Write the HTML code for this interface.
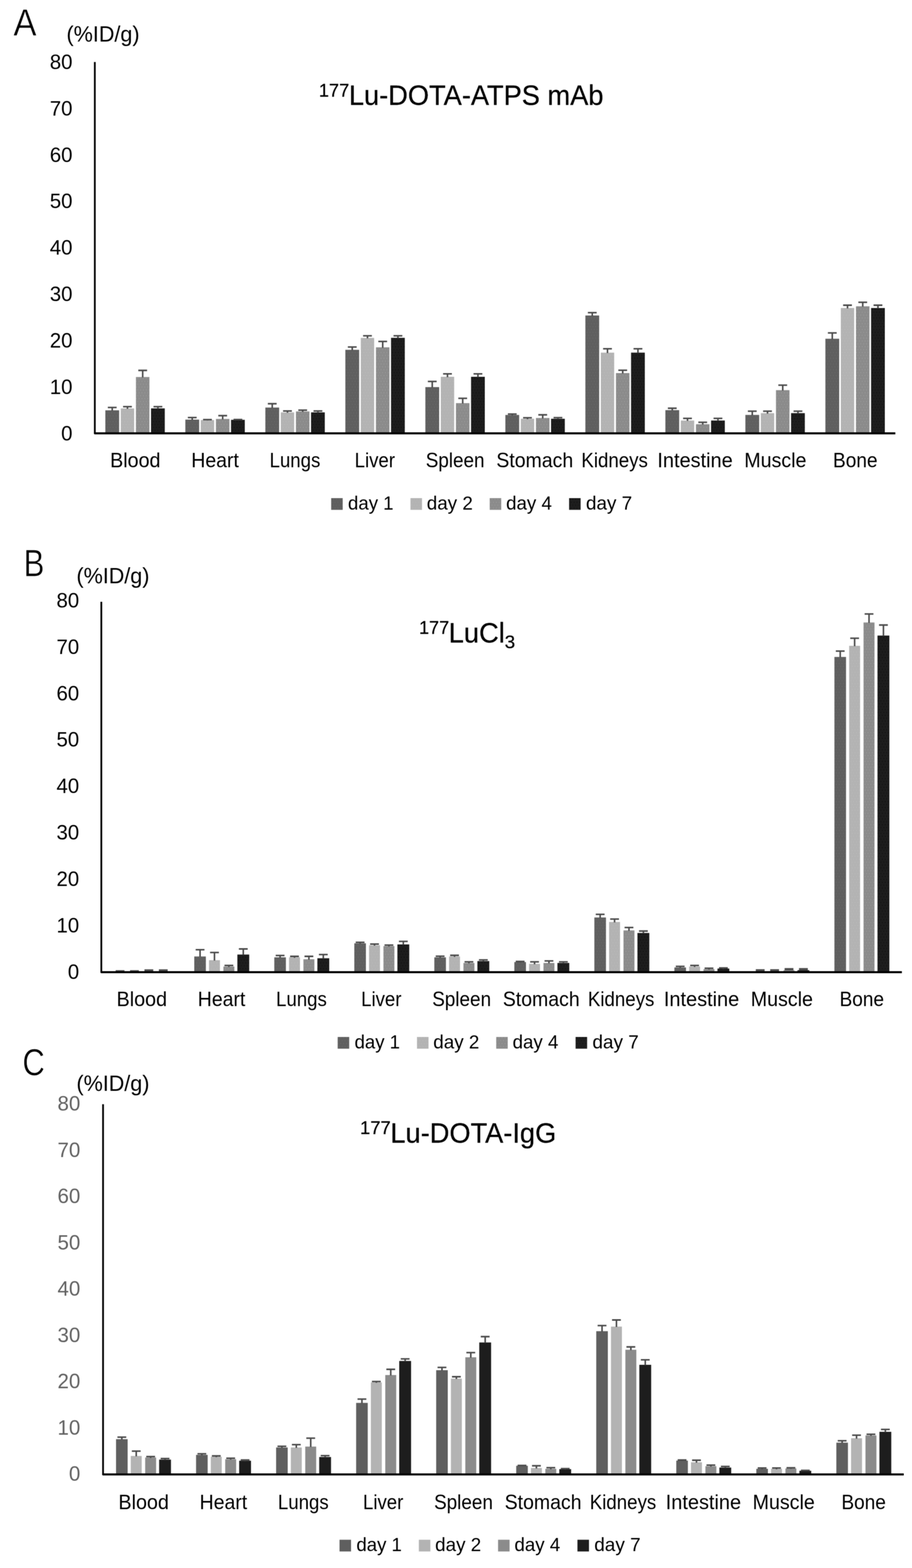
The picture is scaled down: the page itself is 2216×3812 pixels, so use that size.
<!DOCTYPE html>
<html lang="en">
<head>
<meta charset="utf-8">
<title>Biodistribution of 177Lu-labelled agents (%ID/g)</title>
<style>
html,body{margin:0;padding:0;background:#fff;}
body{width:2216px;height:3812px;overflow:hidden;}
svg{display:block;font-family:'Liberation Sans', sans-serif;}
svg text{white-space:pre;}
</style>
</head>
<body>
<svg width="2216" height="3812" viewBox="0 0 2216 3812">
<defs>
<filter id="soft" x="0" y="0" width="2216" height="3812" filterUnits="userSpaceOnUse" color-interpolation-filters="sRGB"><feConvolveMatrix order="3" kernelMatrix="1 2 1 2 4 2 1 2 1" divisor="16" edgeMode="duplicate" preserveAlpha="true"/></filter>
<pattern id="t0" width="7" height="14" patternUnits="userSpaceOnUse"><rect width="7" height="14" fill="#5f5f5f"/><rect x="1" y="2" width="2" height="2" fill="#6a6a6a"/><rect x="4.5" y="9" width="2" height="2" fill="#6a6a6a"/></pattern>
<pattern id="t1" width="7" height="14" patternUnits="userSpaceOnUse"><rect width="7" height="14" fill="#b3b3b3"/><rect x="1" y="2" width="2" height="2" fill="#bababa"/><rect x="4.5" y="9" width="2" height="2" fill="#bababa"/></pattern>
<pattern id="t2" width="7" height="14" patternUnits="userSpaceOnUse"><rect width="7" height="14" fill="#8b8b8b"/><rect x="1" y="2" width="2" height="2" fill="#9b9b9b"/><rect x="4.5" y="9" width="2" height="2" fill="#9b9b9b"/></pattern>
<pattern id="t3" width="7" height="14" patternUnits="userSpaceOnUse"><rect width="7" height="14" fill="#1d1d1d"/><rect x="1" y="2" width="2" height="2" fill="#0e0e0e"/><rect x="4.5" y="9" width="2" height="2" fill="#0e0e0e"/></pattern>
</defs>
<g filter="url(#soft)">
<rect width="2216" height="3812" fill="#fff"/>
<g id="chart-a">
<g class="panel" stroke="#fff" stroke-width="1.1" paint-order="fill stroke"><text x="32.6" y="86.9" font-size="93" textLength="56.4" lengthAdjust="spacingAndGlyphs">A</text></g>
<g class="unit"><text x="161.6" y="101.3" font-size="54.5" textLength="177.5" lengthAdjust="spacingAndGlyphs">(%ID/g)</text></g>
<g class="title" stroke="#000" stroke-width="0.5"><text><tspan x="774.7" y="234.8" font-size="45" textLength="73.8" lengthAdjust="spacingAndGlyphs">177</tspan><tspan x="847.8" y="255.1" font-size="68" textLength="618.5" lengthAdjust="spacingAndGlyphs">Lu-DOTA-ATPS mAb</tspan></text></g>
<g class="yticks"><text x="176.1" y="1071" font-size="49.6" text-anchor="end">0</text><text x="176.1" y="958.09" font-size="49.6" text-anchor="end">10</text><text x="176.1" y="845.17" font-size="49.6" text-anchor="end">20</text><text x="176.1" y="732.26" font-size="49.6" text-anchor="end">30</text><text x="176.1" y="619.35" font-size="49.6" text-anchor="end">40</text><text x="176.1" y="506.44" font-size="49.6" text-anchor="end">50</text><text x="176.1" y="393.53" font-size="49.6" text-anchor="end">60</text><text x="176.1" y="280.61" font-size="49.6" text-anchor="end">70</text><text x="176.1" y="167.7" font-size="49.6" text-anchor="end">80</text></g>
<g class="bars"><rect x="255.95" y="997.5" width="33.5" height="55.8" fill="url(#t0)"/><rect x="293.45" y="993" width="32.5" height="60.3" fill="url(#t1)"/><rect x="330.3" y="916.6" width="32.8" height="136.7" fill="url(#t2)"/><rect x="367" y="992.8" width="33.4" height="60.5" fill="url(#t3)"/><rect x="450.35" y="1020.1" width="33.5" height="33.2" fill="url(#t0)"/><rect x="487.85" y="1021.2" width="32.5" height="32.1" fill="url(#t1)"/><rect x="524.7" y="1018.5" width="32.8" height="34.8" fill="url(#t2)"/><rect x="561.4" y="1020.6" width="33.4" height="32.7" fill="url(#t3)"/><rect x="644.75" y="990.8" width="33.5" height="62.5" fill="url(#t0)"/><rect x="682.25" y="1002.5" width="32.5" height="50.8" fill="url(#t1)"/><rect x="719.1" y="1000.3" width="32.8" height="53" fill="url(#t2)"/><rect x="755.8" y="1002.5" width="33.4" height="50.8" fill="url(#t3)"/><rect x="839.15" y="850.4" width="33.5" height="202.9" fill="url(#t0)"/><rect x="876.65" y="821.5" width="32.5" height="231.8" fill="url(#t1)"/><rect x="913.5" y="844.4" width="32.8" height="208.9" fill="url(#t2)"/><rect x="950.2" y="821.3" width="33.4" height="232" fill="url(#t3)"/><rect x="1033.55" y="941.1" width="33.5" height="112.2" fill="url(#t0)"/><rect x="1071.05" y="916" width="32.5" height="137.3" fill="url(#t1)"/><rect x="1107.9" y="980.1" width="32.8" height="73.2" fill="url(#t2)"/><rect x="1144.6" y="916" width="33.4" height="137.3" fill="url(#t3)"/><rect x="1227.95" y="1008.8" width="33.5" height="44.5" fill="url(#t0)"/><rect x="1265.45" y="1018.1" width="32.5" height="35.2" fill="url(#t1)"/><rect x="1302.3" y="1016.2" width="32.8" height="37.1" fill="url(#t2)"/><rect x="1339" y="1018.1" width="33.4" height="35.2" fill="url(#t3)"/><rect x="1422.35" y="767" width="33.5" height="286.3" fill="url(#t0)"/><rect x="1459.85" y="857.3" width="32.5" height="196" fill="url(#t1)"/><rect x="1496.7" y="907" width="32.8" height="146.3" fill="url(#t2)"/><rect x="1533.4" y="857.3" width="33.4" height="196" fill="url(#t3)"/><rect x="1616.75" y="997.1" width="33.5" height="56.2" fill="url(#t0)"/><rect x="1654.25" y="1022.3" width="32.5" height="31" fill="url(#t1)"/><rect x="1691.1" y="1031.3" width="32.8" height="22" fill="url(#t2)"/><rect x="1727.8" y="1022.3" width="33.4" height="31" fill="url(#t3)"/><rect x="1811.15" y="1008.7" width="33.5" height="44.6" fill="url(#t0)"/><rect x="1848.65" y="1004.4" width="32.5" height="48.9" fill="url(#t1)"/><rect x="1885.5" y="948.5" width="32.8" height="104.8" fill="url(#t2)"/><rect x="1922.2" y="1004.4" width="33.4" height="48.9" fill="url(#t3)"/><rect x="2005.55" y="823.5" width="33.5" height="229.8" fill="url(#t0)"/><rect x="2043.05" y="748.8" width="32.5" height="304.5" fill="url(#t1)"/><rect x="2079.9" y="744.6" width="32.8" height="308.7" fill="url(#t2)"/><rect x="2116.6" y="748.8" width="33.4" height="304.5" fill="url(#t3)"/></g>
<g class="err" fill="none" stroke="#4b4b4b" stroke-width="3.8"><path d="M272.7 998.5V990.6M262 990.6H283.4"/><path d="M309.7 994V988.7M299 988.7H320.4"/><path d="M346.7 917.6V900.5M336 900.5H357.4"/><path d="M383.7 993.8V988.7M373 988.7H394.4"/><path d="M467.1 1021.1V1015.2M456.4 1015.2H477.8"/><path d="M504.1 1022.2V1020.1M493.4 1020.1H514.8"/><path d="M541.1 1019.5V1010.5M530.4 1010.5H551.8"/><path d="M578.1 1021.6V1019.8M567.4 1019.8H588.8"/><path d="M661.5 991.8V981.5M650.8 981.5H672.2"/><path d="M698.5 1003.5V999.2M687.8 999.2H709.2"/><path d="M735.5 1001.3V997.1M724.8 997.1H746.2"/><path d="M772.5 1003.5V999.2M761.8 999.2H783.2"/><path d="M855.9 851.4V843.6M845.2 843.6H866.6"/><path d="M892.9 822.5V816.4M882.2 816.4H903.6"/><path d="M929.9 845.4V830.1M919.2 830.1H940.6"/><path d="M966.9 822.3V816.4M956.2 816.4H977.6"/><path d="M1050.3 942.1V927.4M1039.6 927.4H1061"/><path d="M1087.3 917V908.9M1076.6 908.9H1098"/><path d="M1124.3 981.1V968.4M1113.6 968.4H1135"/><path d="M1161.3 917V908.9M1150.6 908.9H1172"/><path d="M1244.7 1009.8V1006.6M1234 1006.6H1255.4"/><path d="M1281.7 1019.1V1015.6M1271 1015.6H1292.4"/><path d="M1318.7 1017.2V1008.5M1308 1008.5H1329.4"/><path d="M1355.7 1019.1V1015.4M1345 1015.4H1366.4"/><path d="M1439.1 768V760.1M1428.4 760.1H1449.8"/><path d="M1476.1 858.3V847.8M1465.4 847.8H1486.8"/><path d="M1513.1 908V900.2M1502.4 900.2H1523.8"/><path d="M1550.1 858.3V847.8M1539.4 847.8H1560.8"/><path d="M1633.5 998.1V992.5M1622.8 992.5H1644.2"/><path d="M1670.5 1023.3V1017.1M1659.8 1017.1H1681.2"/><path d="M1707.5 1032.3V1026.6M1696.8 1026.6H1718.2"/><path d="M1744.5 1023.3V1017.1M1733.8 1017.1H1755.2"/><path d="M1827.9 1009.7V999.6M1817.2 999.6H1838.6"/><path d="M1864.9 1005.4V999.6M1854.2 999.6H1875.6"/><path d="M1901.9 949.5V936.3M1891.2 936.3H1912.6"/><path d="M1938.9 1005.4V999.6M1928.2 999.6H1949.6"/><path d="M2022.3 824.5V809.3M2011.6 809.3H2033"/><path d="M2059.3 749.8V742M2048.6 742H2070"/><path d="M2096.3 745.6V734.9M2085.6 734.9H2107"/><path d="M2133.3 749.8V742M2122.6 742H2144"/></g>
<g class="axis" fill="none" stroke="#000"><path d="M230.4 150.7V1053.6" stroke-width="4.3"/><path d="M230.7 1053.6H250.4" stroke-width="5" stroke-linecap="round"/><path d="M240.4 1053.6H2175.5" stroke-width="5"/></g>
<g class="cats"><text x="267.5" y="1136.3" font-size="49.5" textLength="122.5" lengthAdjust="spacingAndGlyphs">Blood</text><text x="464.8" y="1136.3" font-size="49.5" textLength="115.6" lengthAdjust="spacingAndGlyphs">Heart</text><text x="655" y="1136.3" font-size="49.5" textLength="123.3" lengthAdjust="spacingAndGlyphs">Lungs</text><text x="861.8" y="1136.3" font-size="49.5" textLength="97.9" lengthAdjust="spacingAndGlyphs">Liver</text><text x="1034.4" y="1136.3" font-size="49.5" textLength="143" lengthAdjust="spacingAndGlyphs">Spleen</text><text x="1206" y="1136.3" font-size="49.5" textLength="186.7" lengthAdjust="spacingAndGlyphs">Stomach</text><text x="1412.6" y="1136.3" font-size="49.5" textLength="161.7" lengthAdjust="spacingAndGlyphs">Kidneys</text><text x="1597.3" y="1136.3" font-size="49.5" textLength="183.1" lengthAdjust="spacingAndGlyphs">Intestine</text><text x="1808.5" y="1136.3" font-size="49.5" textLength="151" lengthAdjust="spacingAndGlyphs">Muscle</text><text x="2024.1" y="1136.3" font-size="49.5" textLength="108.2" lengthAdjust="spacingAndGlyphs">Bone</text></g>
<g class="legend"><rect x="804.7" y="1211" width="28" height="28.5" fill="url(#t0)"/><text x="845.6" y="1238.8" font-size="46.3" textLength="110.6" lengthAdjust="spacingAndGlyphs">day 1</text><rect x="997.4" y="1211" width="28" height="28.5" fill="url(#t1)"/><text x="1037" y="1238.8" font-size="46.3" textLength="111.8" lengthAdjust="spacingAndGlyphs">day 2</text><rect x="1189.9" y="1211" width="28" height="28.5" fill="url(#t2)"/><text x="1229.7" y="1238.8" font-size="46.3" textLength="111.3" lengthAdjust="spacingAndGlyphs">day 4</text><rect x="1382.8" y="1211" width="28" height="28.5" fill="url(#t3)"/><text x="1423.7" y="1238.8" font-size="46.3" textLength="112.5" lengthAdjust="spacingAndGlyphs">day 7</text></g>
</g>
<g id="chart-b">
<g class="panel" stroke="#fff" stroke-width="1.1" paint-order="fill stroke"><text x="57.4" y="1401" font-size="93.5" textLength="50.3" lengthAdjust="spacingAndGlyphs">B</text></g>
<g class="unit"><text x="185.7" y="1417.8" font-size="54.5" textLength="177.5" lengthAdjust="spacingAndGlyphs">(%ID/g)</text></g>
<g class="title" stroke="#000" stroke-width="0.5"><text><tspan x="1018.2" y="1541.4" font-size="45" textLength="73.2" lengthAdjust="spacingAndGlyphs">177</tspan><tspan x="1090.2" y="1562.4" font-size="68" textLength="136.3" lengthAdjust="spacingAndGlyphs">LuCl</tspan><tspan x="1226.3" y="1575.5" font-size="44" textLength="25.5" lengthAdjust="spacingAndGlyphs">3</tspan></text></g>
<g class="yticks"><text x="192.4" y="2380" font-size="49.6" text-anchor="end">0</text><text x="192.4" y="2267.09" font-size="49.6" text-anchor="end">10</text><text x="192.4" y="2154.18" font-size="49.6" text-anchor="end">20</text><text x="192.4" y="2041.26" font-size="49.6" text-anchor="end">30</text><text x="192.4" y="1928.35" font-size="49.6" text-anchor="end">40</text><text x="192.4" y="1815.44" font-size="49.6" text-anchor="end">50</text><text x="192.4" y="1702.53" font-size="49.6" text-anchor="end">60</text><text x="192.4" y="1589.61" font-size="49.6" text-anchor="end">70</text><text x="192.4" y="1476.7" font-size="49.6" text-anchor="end">80</text></g>
<g class="bars"><rect x="472.04" y="2325.3" width="28.2" height="37.5" fill="url(#t0)"/><rect x="507.84" y="2334.3" width="26.6" height="28.5" fill="url(#t1)"/><rect x="542.85" y="2349.8" width="26.6" height="13" fill="url(#t2)"/><rect x="576.75" y="2320.6" width="28.8" height="42.2" fill="url(#t3)"/><rect x="666.48" y="2327.4" width="28.2" height="35.4" fill="url(#t0)"/><rect x="702.28" y="2327.4" width="26.6" height="35.4" fill="url(#t1)"/><rect x="737.28" y="2332.1" width="26.6" height="30.7" fill="url(#t2)"/><rect x="771.18" y="2329.6" width="28.8" height="33.2" fill="url(#t3)"/><rect x="860.9" y="2293.3" width="28.2" height="69.5" fill="url(#t0)"/><rect x="896.71" y="2298" width="26.6" height="64.8" fill="url(#t1)"/><rect x="931.71" y="2300.1" width="26.6" height="62.7" fill="url(#t2)"/><rect x="965.61" y="2296" width="28.8" height="66.8" fill="url(#t3)"/><rect x="1055.34" y="2327.4" width="28.2" height="35.4" fill="url(#t0)"/><rect x="1091.13" y="2325.3" width="26.6" height="37.5" fill="url(#t1)"/><rect x="1126.13" y="2341.1" width="26.6" height="21.7" fill="url(#t2)"/><rect x="1160.03" y="2336.5" width="28.8" height="26.3" fill="url(#t3)"/><rect x="1249.77" y="2338.9" width="28.2" height="23.9" fill="url(#t0)"/><rect x="1285.57" y="2343.3" width="26.6" height="19.5" fill="url(#t1)"/><rect x="1320.57" y="2341.1" width="26.6" height="21.7" fill="url(#t2)"/><rect x="1354.46" y="2341.1" width="28.8" height="21.7" fill="url(#t3)"/><rect x="1444.2" y="2230.5" width="28.2" height="132.3" fill="url(#t0)"/><rect x="1480" y="2241.4" width="26.6" height="121.4" fill="url(#t1)"/><rect x="1515" y="2261.9" width="26.6" height="100.9" fill="url(#t2)"/><rect x="1548.89" y="2268.2" width="28.8" height="94.6" fill="url(#t3)"/><rect x="1638.63" y="2352" width="28.2" height="10.8" fill="url(#t0)"/><rect x="1674.43" y="2349.8" width="26.6" height="13" fill="url(#t1)"/><rect x="1709.43" y="2356.1" width="26.6" height="6.7" fill="url(#t2)"/><rect x="1743.33" y="2354.7" width="28.8" height="8.1" fill="url(#t3)"/><rect x="1903.86" y="2358.7" width="26.6" height="4.1" fill="url(#t2)"/><rect x="1937.75" y="2358.7" width="28.8" height="4.1" fill="url(#t3)"/><rect x="2027.49" y="1597.1" width="28.2" height="765.7" fill="url(#t0)"/><rect x="2063.28" y="1570" width="26.6" height="792.8" fill="url(#t1)"/><rect x="2098.28" y="1513.3" width="26.6" height="849.5" fill="url(#t2)"/><rect x="2132.18" y="1545.1" width="28.8" height="817.7" fill="url(#t3)"/></g>
<g class="err" fill="none" stroke="#4b4b4b" stroke-width="3.8"><path d="M486.14 2326.3V2308.9M475.44 2308.9H496.84"/><path d="M521.14 2335.3V2315.7M510.44 2315.7H531.85"/><path d="M556.14 2350.8V2347.1M545.44 2347.1H566.85"/><path d="M591.14 2321.6V2307M580.44 2307H601.85"/><path d="M680.58 2328.4V2322.8M669.88 2322.8H691.28"/><path d="M715.58 2328.4V2325M704.88 2325H726.28"/><path d="M750.58 2333.1V2325M739.88 2325H761.28"/><path d="M785.58 2330.6V2320.6M774.88 2320.6H796.28"/><path d="M875 2294.3V2290.9M864.3 2290.9H885.71"/><path d="M910 2299V2295.2M899.3 2295.2H920.71"/><path d="M945 2301.1V2297.7M934.3 2297.7H955.71"/><path d="M980 2297V2288.7M969.3 2288.7H990.71"/><path d="M1069.43 2328.4V2324.7M1058.73 2324.7H1080.13"/><path d="M1104.43 2326.3V2322.5M1093.73 2322.5H1115.13"/><path d="M1139.43 2342.1V2338.4M1128.73 2338.4H1150.13"/><path d="M1174.43 2337.5V2333.7M1163.73 2333.7H1185.13"/><path d="M1263.87 2339.9V2337.5M1253.16 2337.5H1274.57"/><path d="M1298.87 2344.3V2338.4M1288.16 2338.4H1309.57"/><path d="M1333.87 2342.1V2336.2M1323.16 2336.2H1344.57"/><path d="M1368.87 2342.1V2338.4M1358.16 2338.4H1379.57"/><path d="M1458.3 2231.5V2222.9M1447.6 2222.9H1469"/><path d="M1493.3 2242.4V2234.3M1482.6 2234.3H1504"/><path d="M1528.3 2262.9V2254.8M1517.6 2254.8H1539"/><path d="M1563.3 2269.2V2263.5M1552.6 2263.5H1574"/><path d="M1652.73 2353V2349.3M1642.03 2349.3H1663.43"/><path d="M1687.73 2350.8V2347.1M1677.03 2347.1H1698.43"/><path d="M1722.73 2357.1V2353.9M1712.03 2353.9H1733.43"/><path d="M1757.73 2355.7V2353.1M1747.03 2353.1H1768.43"/><path d="M2041.59 1598.1V1582.9M2030.88 1582.9H2052.28"/><path d="M2076.59 1571V1551.6M2065.89 1551.6H2087.28"/><path d="M2111.59 1514.3V1492.6M2100.89 1492.6H2122.28"/><path d="M2146.59 1546.1V1519.5M2135.89 1519.5H2157.28"/></g>
<g class="err-flat" fill="#4b4b4b"><rect x="281.02" y="2358.6" width="21.4" height="3.9"/><rect x="316.02" y="2358.6" width="21.4" height="3.9"/><rect x="351.02" y="2356.5" width="21.4" height="6"/><rect x="386.02" y="2356.5" width="21.4" height="6"/><rect x="1836.45" y="2356.2" width="21.4" height="6.3"/><rect x="1871.45" y="2356.2" width="21.4" height="6.3"/><rect x="1906.45" y="2353.5" width="21.4" height="5.4"/><rect x="1941.45" y="2353.5" width="21.4" height="5.4"/></g>
<g class="axis" fill="none" stroke="#000"><path d="M246.2 1463V2363.6" stroke-width="4.3"/><path d="M246.5 2363.6H266.2" stroke-width="5" stroke-linecap="round"/><path d="M256.2 2363.6H2191.4" stroke-width="5"/></g>
<g class="cats"><text x="283.3" y="2446.3" font-size="49.5" textLength="122.5" lengthAdjust="spacingAndGlyphs">Blood</text><text x="480.6" y="2446.3" font-size="49.5" textLength="115.6" lengthAdjust="spacingAndGlyphs">Heart</text><text x="670.8" y="2446.3" font-size="49.5" textLength="123.3" lengthAdjust="spacingAndGlyphs">Lungs</text><text x="877.6" y="2446.3" font-size="49.5" textLength="97.9" lengthAdjust="spacingAndGlyphs">Liver</text><text x="1050.2" y="2446.3" font-size="49.5" textLength="143" lengthAdjust="spacingAndGlyphs">Spleen</text><text x="1221.8" y="2446.3" font-size="49.5" textLength="186.7" lengthAdjust="spacingAndGlyphs">Stomach</text><text x="1428.4" y="2446.3" font-size="49.5" textLength="161.7" lengthAdjust="spacingAndGlyphs">Kidneys</text><text x="1613.1" y="2446.3" font-size="49.5" textLength="183.1" lengthAdjust="spacingAndGlyphs">Intestine</text><text x="1824.3" y="2446.3" font-size="49.5" textLength="151" lengthAdjust="spacingAndGlyphs">Muscle</text><text x="2039.9" y="2446.3" font-size="49.5" textLength="108.2" lengthAdjust="spacingAndGlyphs">Bone</text></g>
<g class="legend"><rect x="820.5" y="2521" width="28" height="28.5" fill="url(#t0)"/><text x="861.4" y="2548.8" font-size="46.3" textLength="110.6" lengthAdjust="spacingAndGlyphs">day 1</text><rect x="1013.2" y="2521" width="28" height="28.5" fill="url(#t1)"/><text x="1052.8" y="2548.8" font-size="46.3" textLength="111.8" lengthAdjust="spacingAndGlyphs">day 2</text><rect x="1205.7" y="2521" width="28" height="28.5" fill="url(#t2)"/><text x="1245.5" y="2548.8" font-size="46.3" textLength="111.3" lengthAdjust="spacingAndGlyphs">day 4</text><rect x="1398.6" y="2521" width="28" height="28.5" fill="url(#t3)"/><text x="1439.5" y="2548.8" font-size="46.3" textLength="112.5" lengthAdjust="spacingAndGlyphs">day 7</text></g>
</g>
<g id="chart-c">
<g class="panel" stroke="#fff" stroke-width="1.1" paint-order="fill stroke"><text x="54.6" y="2613.9" font-size="90" textLength="54.4" lengthAdjust="spacingAndGlyphs">C</text></g>
<g class="unit"><text x="185.7" y="2652.1" font-size="54.5" textLength="177.5" lengthAdjust="spacingAndGlyphs">(%ID/g)</text></g>
<g class="title" stroke="#000" stroke-width="0.5"><text><tspan x="874.8" y="2756.6" font-size="45" textLength="74.6" lengthAdjust="spacingAndGlyphs">177</tspan><tspan x="948.6" y="2777.5" font-size="68" textLength="403" lengthAdjust="spacingAndGlyphs">Lu-DOTA-IgG</tspan></text></g>
<g class="yticks"><text x="195" y="3600.2" font-size="49.6" text-anchor="end" fill="#626262">0</text><text x="195" y="3487.72" font-size="49.6" text-anchor="end" fill="#626262">10</text><text x="195" y="3375.25" font-size="49.6" text-anchor="end" fill="#626262">20</text><text x="195" y="3262.78" font-size="49.6" text-anchor="end" fill="#626262">30</text><text x="195" y="3150.3" font-size="49.6" text-anchor="end" fill="#626262">40</text><text x="195" y="3037.82" font-size="49.6" text-anchor="end" fill="#626262">50</text><text x="195" y="2925.35" font-size="49.6" text-anchor="end" fill="#626262">60</text><text x="195" y="2812.88" font-size="49.6" text-anchor="end" fill="#626262">70</text><text x="195" y="2700.4" font-size="49.6" text-anchor="end" fill="#626262">80</text></g>
<g class="bars"><rect x="281.94" y="3498.8" width="28.2" height="85.5" fill="#5f5f5f"/><rect x="317.74" y="3539.6" width="26.6" height="44.7" fill="#b3b3b3"/><rect x="352.74" y="3543.4" width="26.6" height="40.9" fill="#8b8b8b"/><rect x="386.64" y="3548.5" width="28.8" height="35.8" fill="#1d1d1d"/><rect x="476.4" y="3537" width="28.2" height="47.3" fill="#5f5f5f"/><rect x="512.21" y="3541.6" width="26.6" height="42.7" fill="#b3b3b3"/><rect x="547.21" y="3547.6" width="26.6" height="36.7" fill="#8b8b8b"/><rect x="581.11" y="3551.2" width="28.8" height="33.1" fill="#1d1d1d"/><rect x="670.88" y="3519" width="28.2" height="65.3" fill="#5f5f5f"/><rect x="706.68" y="3519" width="26.6" height="65.3" fill="#b3b3b3"/><rect x="741.68" y="3516.8" width="26.6" height="67.5" fill="#8b8b8b"/><rect x="775.58" y="3542.2" width="28.8" height="42.1" fill="#1d1d1d"/><rect x="865.34" y="3410.6" width="28.2" height="173.7" fill="#5f5f5f"/><rect x="901.14" y="3360.8" width="26.6" height="223.5" fill="#b3b3b3"/><rect x="936.14" y="3342.9" width="26.6" height="241.4" fill="#8b8b8b"/><rect x="970.04" y="3308.7" width="28.8" height="275.6" fill="#1d1d1d"/><rect x="1059.82" y="3331.1" width="28.2" height="253.2" fill="#5f5f5f"/><rect x="1095.62" y="3351.6" width="26.6" height="232.7" fill="#b3b3b3"/><rect x="1130.62" y="3299.7" width="26.6" height="284.6" fill="#8b8b8b"/><rect x="1164.51" y="3263.7" width="28.8" height="320.6" fill="#1d1d1d"/><rect x="1254.29" y="3563.5" width="28.2" height="20.8" fill="#5f5f5f"/><rect x="1290.09" y="3568.9" width="26.6" height="15.4" fill="#b3b3b3"/><rect x="1325.09" y="3570.9" width="26.6" height="13.4" fill="#8b8b8b"/><rect x="1358.98" y="3571.7" width="28.8" height="12.6" fill="#1d1d1d"/><rect x="1448.76" y="3236.3" width="28.2" height="348" fill="#5f5f5f"/><rect x="1484.56" y="3225.1" width="26.6" height="359.2" fill="#b3b3b3"/><rect x="1519.56" y="3281.4" width="26.6" height="302.9" fill="#8b8b8b"/><rect x="1553.45" y="3318" width="28.8" height="266.3" fill="#1d1d1d"/><rect x="1643.23" y="3550.9" width="28.2" height="33.4" fill="#5f5f5f"/><rect x="1679.03" y="3554.9" width="26.6" height="29.4" fill="#b3b3b3"/><rect x="1714.03" y="3564.5" width="26.6" height="19.8" fill="#8b8b8b"/><rect x="1747.92" y="3567.8" width="28.8" height="16.5" fill="#1d1d1d"/><rect x="1837.69" y="3570.9" width="28.2" height="13.4" fill="#5f5f5f"/><rect x="1873.49" y="3570.9" width="26.6" height="13.4" fill="#b3b3b3"/><rect x="1908.49" y="3570" width="26.6" height="14.3" fill="#8b8b8b"/><rect x="1942.39" y="3575.6" width="28.8" height="8.7" fill="#1d1d1d"/><rect x="2032.16" y="3507.3" width="28.2" height="77" fill="#5f5f5f"/><rect x="2067.96" y="3496.5" width="26.6" height="87.8" fill="#b3b3b3"/><rect x="2102.96" y="3489.7" width="26.6" height="94.6" fill="#8b8b8b"/><rect x="2136.86" y="3480.9" width="28.8" height="103.4" fill="#1d1d1d"/></g>
<g class="err" fill="none" stroke="#4b4b4b" stroke-width="3.8"><path d="M296.04 3499.8V3493.9M285.34 3493.9H306.74"/><path d="M331.04 3540.6V3527.9M320.34 3527.9H341.74"/><path d="M366.04 3544.4V3541.2M355.34 3541.2H376.74"/><path d="M401.04 3549.5V3545.8M390.34 3545.8H411.74"/><path d="M490.5 3538V3534.3M479.81 3534.3H501.2"/><path d="M525.5 3542.6V3539.5M514.8 3539.5H536.21"/><path d="M560.5 3548.6V3545.2M549.8 3545.2H571.21"/><path d="M595.5 3552.2V3549.3M584.8 3549.3H606.21"/><path d="M684.98 3520V3516.2M674.27 3516.2H695.68"/><path d="M719.98 3520V3512.2M709.27 3512.2H730.68"/><path d="M754.98 3517.8V3496.3M744.27 3496.3H765.68"/><path d="M789.98 3543.2V3538.9M779.27 3538.9H800.68"/><path d="M879.44 3411.6V3401.3M868.74 3401.3H890.14"/><path d="M914.44 3361.8V3358.6M903.74 3358.6H925.14"/><path d="M949.44 3343.9V3329M938.74 3329H960.14"/><path d="M984.44 3309.7V3303.6M973.74 3303.6H995.14"/><path d="M1073.91 3332.1V3324.3M1063.21 3324.3H1084.62"/><path d="M1108.91 3352.6V3347M1098.21 3347H1119.62"/><path d="M1143.91 3300.7V3288.3M1133.21 3288.3H1154.62"/><path d="M1178.91 3264.7V3249.5M1168.21 3249.5H1189.62"/><path d="M1268.38 3564.5V3562.7M1257.68 3562.7H1279.09"/><path d="M1303.38 3569.9V3563.5M1292.68 3563.5H1314.09"/><path d="M1338.38 3571.9V3568.1M1327.68 3568.1H1349.09"/><path d="M1373.38 3572.7V3570.3M1362.68 3570.3H1384.09"/><path d="M1462.86 3237.3V3222.7M1452.15 3222.7H1473.56"/><path d="M1497.86 3226.1V3209M1487.15 3209H1508.56"/><path d="M1532.86 3282.4V3274.5M1522.15 3274.5H1543.56"/><path d="M1567.86 3319V3305.9M1557.15 3305.9H1578.56"/><path d="M1657.33 3551.9V3549.5M1646.62 3549.5H1668.03"/><path d="M1692.33 3555.9V3550M1681.62 3550H1703.03"/><path d="M1727.33 3565.5V3561.8M1716.62 3561.8H1738.03"/><path d="M1762.33 3568.8V3565.1M1751.62 3565.1H1773.03"/><path d="M1851.79 3571.9V3568.9M1841.09 3568.9H1862.49"/><path d="M1886.79 3571.9V3568.9M1876.09 3568.9H1897.49"/><path d="M1921.79 3571V3568.3M1911.09 3568.3H1932.49"/><path d="M1956.79 3576.6V3574.6M1946.09 3574.6H1967.49"/><path d="M2046.26 3508.3V3502.7M2035.56 3502.7H2056.96"/><path d="M2081.26 3497.5V3489.1M2070.57 3489.1H2091.96"/><path d="M2116.26 3490.7V3486.8M2105.57 3486.8H2126.96"/><path d="M2151.26 3481.9V3475.2M2140.57 3475.2H2161.96"/></g>
<g class="axis" fill="none" stroke="#000"><path d="M250.4 2684.5V3584.5" stroke-width="4.3"/><path d="M250.7 3584.5H270.4" stroke-width="5" stroke-linecap="round"/><path d="M260.4 3584.5H2196" stroke-width="5"/></g>
<g class="cats"><text x="287.8" y="3668.6" font-size="49.5" textLength="122.5" lengthAdjust="spacingAndGlyphs">Blood</text><text x="485.1" y="3668.6" font-size="49.5" textLength="115.6" lengthAdjust="spacingAndGlyphs">Heart</text><text x="675.3" y="3668.6" font-size="49.5" textLength="123.3" lengthAdjust="spacingAndGlyphs">Lungs</text><text x="882.1" y="3668.6" font-size="49.5" textLength="97.9" lengthAdjust="spacingAndGlyphs">Liver</text><text x="1054.7" y="3668.6" font-size="49.5" textLength="143" lengthAdjust="spacingAndGlyphs">Spleen</text><text x="1226.3" y="3668.6" font-size="49.5" textLength="186.7" lengthAdjust="spacingAndGlyphs">Stomach</text><text x="1432.9" y="3668.6" font-size="49.5" textLength="161.7" lengthAdjust="spacingAndGlyphs">Kidneys</text><text x="1617.6" y="3668.6" font-size="49.5" textLength="183.1" lengthAdjust="spacingAndGlyphs">Intestine</text><text x="1828.8" y="3668.6" font-size="49.5" textLength="151" lengthAdjust="spacingAndGlyphs">Muscle</text><text x="2044.4" y="3668.6" font-size="49.5" textLength="108.2" lengthAdjust="spacingAndGlyphs">Bone</text></g>
<g class="legend"><rect x="825" y="3743.3" width="28" height="28.5" fill="#5f5f5f"/><text x="865.9" y="3771.1" font-size="46.3" textLength="110.6" lengthAdjust="spacingAndGlyphs">day 1</text><rect x="1017.7" y="3743.3" width="28" height="28.5" fill="#b3b3b3"/><text x="1057.3" y="3771.1" font-size="46.3" textLength="111.8" lengthAdjust="spacingAndGlyphs">day 2</text><rect x="1210.2" y="3743.3" width="28" height="28.5" fill="#8b8b8b"/><text x="1250" y="3771.1" font-size="46.3" textLength="111.3" lengthAdjust="spacingAndGlyphs">day 4</text><rect x="1403.1" y="3743.3" width="28" height="28.5" fill="#1d1d1d"/><text x="1444" y="3771.1" font-size="46.3" textLength="112.5" lengthAdjust="spacingAndGlyphs">day 7</text></g>
</g>
</g>
</svg>
</body>
</html>
